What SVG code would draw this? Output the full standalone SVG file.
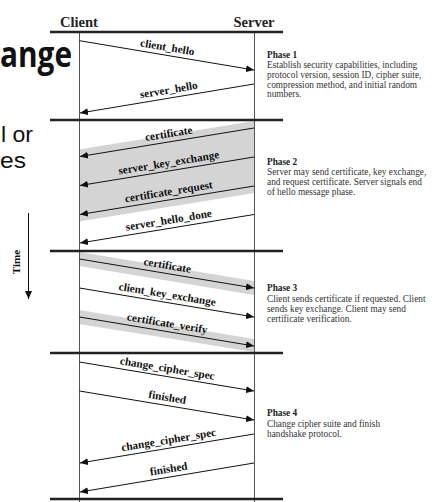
<svg xmlns="http://www.w3.org/2000/svg" width="445" height="502" viewBox="0 0 445 502">
<style>
.bg{font-family:"Open Sans","Liberation Sans",sans-serif;fill:#111}
.bgr{font-family:"Liberation Sans","Open Sans",sans-serif;fill:#111}
.hdr{font-family:"Liberation Serif",serif;font-weight:bold;font-size:14.5px;fill:#222;text-anchor:middle}
.thick{stroke:#222;stroke-width:2.6;fill:none}
.life{stroke:#555;stroke-width:1;fill:none}
.msg{stroke:#111;stroke-width:1;fill:none;marker-end:url(#ah)}
.lbl{font-family:"Liberation Serif",serif;font-weight:bold;font-size:11.2px;fill:#111;text-anchor:middle}
.band{fill:#d4d4d4;stroke:none}
.ph{font-family:"Liberation Serif",serif;font-size:9.3px;fill:#333}
.phb{font-weight:bold;fill:#222}
</style>
<defs>
<marker id="ah" markerUnits="userSpaceOnUse" markerWidth="9" markerHeight="7" refX="8" refY="3.5" orient="auto">
<path d="M0,0 L8,3.5 L0,7 Z" fill="#111"/>
</marker>
</defs>
<rect width="445" height="502" fill="#fff"/>
<g id="slide-fragments">
<text class="bg" x="0" y="67" font-size="36" font-weight="bold" textLength="72" lengthAdjust="spacingAndGlyphs">ange</text>
<text class="bgr" x="1" y="142" font-size="22" textLength="32" lengthAdjust="spacingAndGlyphs">l or</text>
<text class="bgr" x="0" y="168" font-size="22" textLength="26" lengthAdjust="spacingAndGlyphs">es</text>
</g>
<g id="bands">
<polygon class="band" points="254,121 79,149.5 79,221.5 254,193"/>
<polygon class="band" points="79,252 254,281 254,295 79,266"/>
<polygon class="band" points="79,310 254,339 254,352 79,324"/>
</g>
<g id="client">
<text class="hdr" x="79" y="27">Client</text>
<line class="life" x1="79.5" y1="32" x2="79.5" y2="502"/>
</g>
<g id="server">
<text class="hdr" x="254" y="27">Server</text>
<line class="life" x1="254.5" y1="32" x2="254.5" y2="502"/>
</g>
<g id="phase-separators">
<line class="thick" x1="50" y1="32" x2="283" y2="32"/>
<line class="thick" x1="50" y1="120" x2="283" y2="120"/>
<line class="thick" x1="50" y1="251" x2="283" y2="251"/>
<line class="thick" x1="50" y1="353" x2="283" y2="353"/>
<line class="thick" x1="50" y1="499" x2="283" y2="499"/>
</g>
<g id="connectors">
<line class="msg" x1="79.5" y1="40.7" x2="254" y2="70"/>
<line class="msg" x1="254" y1="84" x2="80" y2="113"/>
<line class="msg" x1="254" y1="128" x2="80" y2="156.5"/>
<line class="msg" x1="254" y1="157" x2="80" y2="185.5"/>
<line class="msg" x1="254" y1="186" x2="80" y2="214.5"/>
<line class="msg" x1="254" y1="214.5" x2="80" y2="243"/>
<line class="msg" x1="79.5" y1="259" x2="254" y2="288"/>
<line class="msg" x1="79.5" y1="288" x2="254" y2="317"/>
<line class="msg" x1="79.5" y1="317" x2="254" y2="346"/>
<line class="msg" x1="79.5" y1="362" x2="254" y2="391"/>
<line class="msg" x1="79.5" y1="391" x2="254" y2="420"/>
<line class="msg" x1="254" y1="434" x2="80" y2="463"/>
<line class="msg" x1="254" y1="463" x2="80" y2="492"/>
<line class="msg" x1="28.5" y1="213" x2="28.5" y2="299"/>
</g>
<g id="labels">
<text class="lbl" transform="translate(166,55.3) rotate(9.5)" y="-4.5">client_hello</text>
<text class="lbl" transform="translate(170,97.9) rotate(-9.4)" y="-4.5">server_hello</text>
<text class="lbl" transform="translate(170,141.7) rotate(-9.25)" y="-4.5">certificate</text>
<text class="lbl" transform="translate(170,170.7) rotate(-9.25)" y="-4.5">server_key_exchange</text>
<text class="lbl" transform="translate(170,199.7) rotate(-9.25)" y="-4.5">certificate_request</text>
<text class="lbl" transform="translate(170,228.2) rotate(-9.25)" y="-4.5">server_hello_done</text>
<text class="lbl" transform="translate(166,273.4) rotate(9.4)" y="-4.5">certificate</text>
<text class="lbl" transform="translate(166,302.4) rotate(9.4)" y="-4.5">client_key_exchange</text>
<text class="lbl" transform="translate(166,331.4) rotate(9.4)" y="-4.5">certificate_verify</text>
<text class="lbl" transform="translate(166,376.4) rotate(9.4)" y="-4.5">change_cipher_spec</text>
<text class="lbl" transform="translate(166,405.4) rotate(9.4)" y="-4.5">finished</text>
<text class="lbl" transform="translate(170,447.9) rotate(-9.4)" y="-4.5">change_cipher_spec</text>
<text class="lbl" transform="translate(170,476.9) rotate(-9.4)" y="-4.5">finished</text>
<text class="lbl" transform="translate(19.5,262) rotate(-90)" font-size="10.5">Time</text>
</g>
<g id="phase1">
<text class="ph phb" x="267" y="58">Phase 1</text>
<text class="ph" x="267" y="68">Establish security capabilities, including</text>
<text class="ph" x="267" y="77.8">protocol version, session ID, cipher suite,</text>
<text class="ph" x="267" y="87.6">compression method, and initial random</text>
<text class="ph" x="267" y="97.4">numbers.</text>
</g>
<g id="phase2">
<text class="ph phb" x="267" y="164.5">Phase 2</text>
<text class="ph" x="267" y="175">Server may send certificate, key exchange,</text>
<text class="ph" x="267" y="185">and request certificate. Server signals end</text>
<text class="ph" x="267" y="195">of hello message phase.</text>
</g>
<g id="phase3">
<text class="ph phb" x="267" y="291">Phase 3</text>
<text class="ph" x="267" y="301.5">Client sends certificate if requested. Client</text>
<text class="ph" x="267" y="311.5">sends key exchange. Client may send</text>
<text class="ph" x="267" y="321.5">certificate verification.</text>
</g>
<g id="phase4">
<text class="ph phb" x="267" y="416">Phase 4</text>
<text class="ph" x="267" y="426.5">Change cipher suite and finish</text>
<text class="ph" x="267" y="436.5">handshake protocol.</text>
</g>
</svg>
